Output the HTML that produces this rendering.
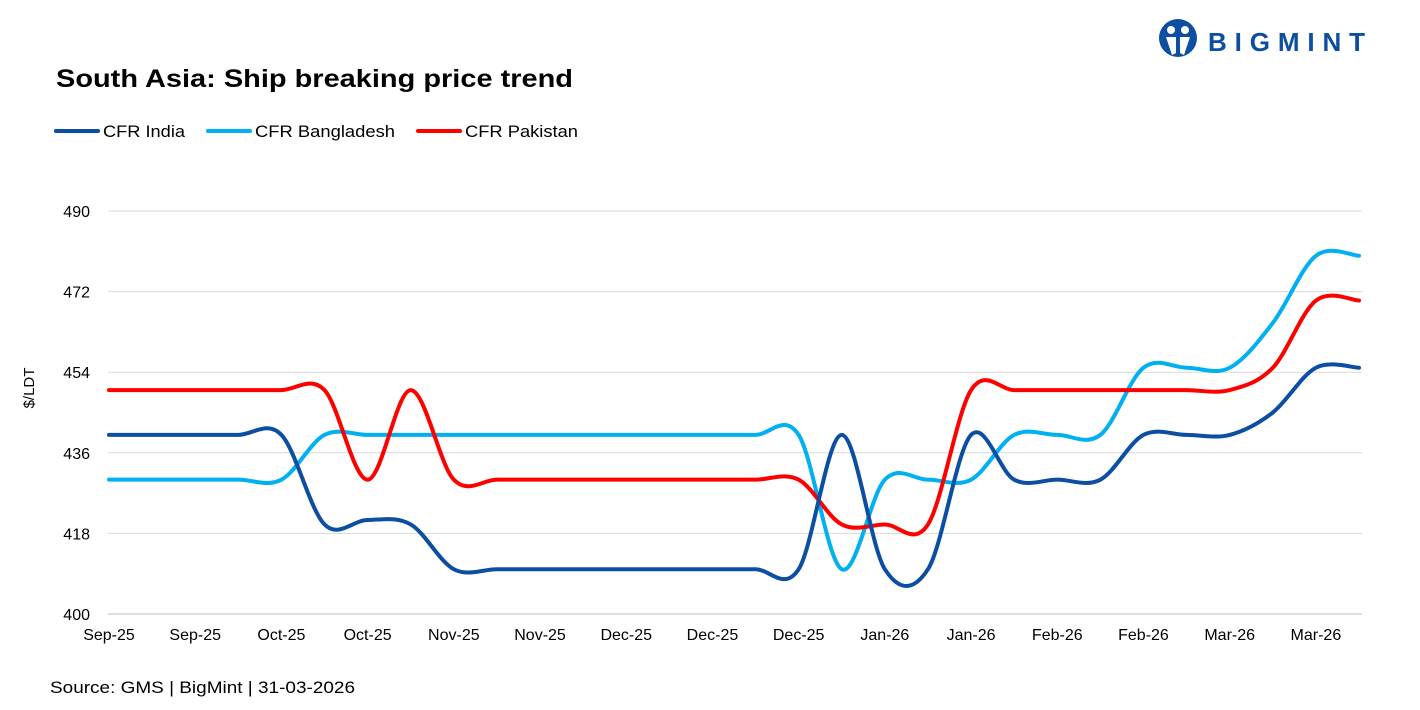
<!DOCTYPE html>
<html><head><meta charset="utf-8"><style>
body{margin:0;background:#fff;font-family:"Liberation Sans",sans-serif;}
#wrap{position:relative;width:1420px;height:710px;overflow:hidden;}
</style></head><body>
<div id="wrap">
<svg id="chart" width="1420" height="710">
  <g>
    <circle cx="1178" cy="38" r="19" fill="#0b4ea2"/>
    <circle cx="1171" cy="30" r="4" fill="#fff"/>
    <circle cx="1185" cy="30" r="4" fill="#fff"/>
    <path d="M1166 37 L1176 37 L1176 53 L1172 55 Z M1180 37 L1190 37 L1184 55 L1180 53 Z" fill="#fff"/>
    <text x="1208" y="51" font-size="26" font-weight="bold" fill="#0b4ea2" textLength="157" lengthAdjust="spacing">BIGMINT</text>
  </g>
  <text x="56" y="87" font-size="25" font-weight="bold" fill="#000" textLength="517" lengthAdjust="spacingAndGlyphs">South Asia: Ship breaking  price trend</text>
  <g>
    <g><line x1="56" y1="131" x2="98" y2="131" stroke="#0b4ea2" stroke-width="4" stroke-linecap="round"/><text x="103" y="137" font-size="17" textLength="82" lengthAdjust="spacingAndGlyphs">CFR India</text></g>
    <g><line x1="208" y1="131" x2="250" y2="131" stroke="#00b0f0" stroke-width="4" stroke-linecap="round"/><text x="255" y="137" font-size="17" textLength="140" lengthAdjust="spacingAndGlyphs">CFR Bangladesh</text></g>
    <g><line x1="418" y1="131" x2="460" y2="131" stroke="#ff0000" stroke-width="4" stroke-linecap="round"/><text x="465" y="137" font-size="17" textLength="113" lengthAdjust="spacingAndGlyphs">CFR Pakistan</text></g>
  </g>
  <text transform="translate(34,388) rotate(-90)" text-anchor="middle" font-size="15">$/LDT</text>
  <g id="grid"></g><g id="series"></g><g id="xlabels"></g>
  <text x="50" y="693" font-size="17" textLength="305" lengthAdjust="spacingAndGlyphs">Source: GMS | BigMint  | 31-03-2026</text>
</svg>
</div>
<script>
const yTicks=[400,418,436,454,472,490];
const xLabels=["Sep-25","Sep-25","Oct-25","Oct-25","Nov-25","Nov-25","Dec-25","Dec-25","Dec-25","Jan-26","Jan-26","Feb-26","Feb-26","Mar-26","Mar-26"];
const india=[440,440,440,440,440,420,421,420,410,410,410,410,410,410,410,410,410,440,410,410,440,430,430,430,440,440,440,445,455,455];
const bangladesh=[430,430,430,430,430,440,440,440,440,440,440,440,440,440,440,440,440,410,430,430,430,440,440,440,455,455,455,465,480,480];
const pakistan=[450,450,450,450,450,450,430,450,430,430,430,430,430,430,430,430,430,420,420,420,450,450,450,450,450,450,450,455,470,470];
const NS='http://www.w3.org/2000/svg';
const x0=109,x1=1359,yT=211,yB=614;
const n=india.length;
const xs=i=>x0+(x1-x0)*i/(n-1);
const ys=v=>yB-(v-400)/(90)*(yB-yT);
const grid=document.getElementById('grid');
yTicks.forEach(t=>{
  const l=document.createElementNS(NS,'line');
  
  
  l.setAttribute('x1',108);l.setAttribute('x2',1362);l.setAttribute('y1',ys(t));l.setAttribute('y2',ys(t));
  l.setAttribute('stroke',t===400?'#bfbfbf':'#d9d9d9');l.setAttribute('stroke-width',1);
  grid.appendChild(l);
  const tx=document.createElementNS(NS,'text');
  
  
  tx.setAttribute('x',90);tx.setAttribute('y',ys(t)+6);tx.setAttribute('text-anchor','end');tx.setAttribute('font-size','16');
  tx.textContent=t;grid.appendChild(tx);
});
const xl=document.getElementById('xlabels');
xLabels.forEach((s,i)=>{
  const tx=document.createElementNS(NS,'text');
  
  
  tx.setAttribute('x',xs(i*2));tx.setAttribute('y',640);tx.setAttribute('text-anchor','middle');tx.setAttribute('font-size','16');
  tx.textContent=s;xl.appendChild(tx);
});
function path(d){
  const p=d.map((v,i)=>[xs(i),ys(v)]);
  let s='M'+p[0][0]+' '+p[0][1];
  for(let i=0;i<p.length-1;i++){
    const a=p[Math.max(0,i-1)],b=p[i],c=p[i+1],e=p[Math.min(p.length-1,i+2)];
    const c1=[b[0]+(c[0]-a[0])/6,b[1]+(c[1]-a[1])/6],c2=[c[0]-(e[0]-b[0])/6,c[1]-(e[1]-b[1])/6];
    s+=` C${c1[0]} ${c1[1]} ${c2[0]} ${c2[1]} ${c[0]} ${c[1]}`;
  }
  return s;
}
const sg=document.getElementById('series');
[[bangladesh,'#00b0f0','line-bangladesh'],[pakistan,'#ff0000','line-pakistan'],[india,'#0b4ea2','line-india']].forEach(([d,c,nm])=>{
  const el=document.createElementNS(NS,'path');
  
  
  el.setAttribute('d',path(d));el.setAttribute('fill','none');el.setAttribute('stroke',c);el.setAttribute('stroke-width',4);el.setAttribute('stroke-linecap','round');
  sg.appendChild(el);
});
</script>
</body></html>
